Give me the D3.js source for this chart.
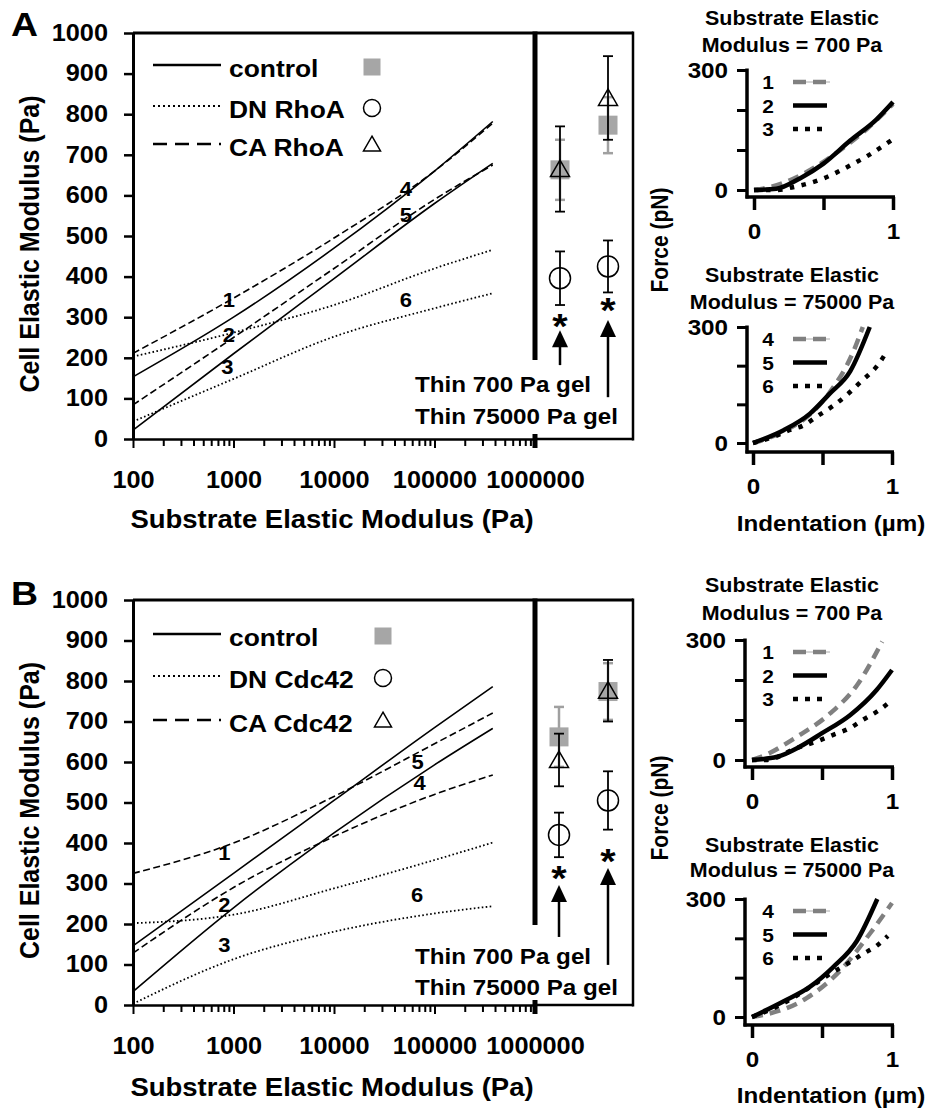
<!DOCTYPE html>
<html lang="en">
<head>
<meta charset="UTF-8">
<title>Cell elastic modulus vs substrate elastic modulus</title>
<script src="https://d3js.org/d3.v7.min.js"></script>
<style>
  body { margin: 0; background: #fff; }
  svg text { font-family: "Liberation Sans", Arial, Helvetica, sans-serif; font-weight: bold; fill: #000; }
</style>
</head>
<body>
<svg id="fig" width="931" height="1111"></svg>
<script>
// ---------------- data ----------------
const substrate = [100, 1000, 10000, 100000, 380000];   // Pa

// panel A (RhoA), two model curves per condition
const rhoaControl = [[153, 300, 470, 660, 782], [22, 210, 395, 580, 679]];
const rhoaDN      = [[203, 262, 330, 420, 466], [43, 148, 252, 322, 359]];
const rhoaCA      = [[211, 347, 495, 660, 778], [84, 250, 420, 590, 675]];

// panel B (Cdc42)
const cdcControl = [[146, 325, 505, 685, 786], [33, 240, 425, 593, 683]];
const cdcDN      = [[202, 223, 288, 358, 401], [3, 113, 181, 226, 244]];
const cdcCA      = [[325, 400, 515, 645, 721], [128, 290, 416, 520, 568]];

// measured points on thin gels
const gels = ["Thin 700 Pa gel", "Thin 75000 Pa gel"];
const rhoaCtlMean = [663, 773], rhoaCtlErr = [74, 69];
const rhoaCAMean  = [665, 840], rhoaCAErr  = [105, 103];
const rhoaDNMean  = [396, 425], rhoaDNErr  = [66, 64];
const cdcCtlMean  = [662, 774], cdcCtlErr  = [74, 70];
const cdcCAMean   = [605, 776], cdcCAErr   = [65, 76];
const cdcDNMean   = [420, 505], cdcDNErr   = [55, 72];

// curve numbers (substrate Pa, cell Pa)
const rhoaNumbers = [[900, 342, "1"], [900, 256, "2"], [870, 177, "3"], [52000, 616, "4"], [52000, 552, "5"], [52000, 342, "6"]];
const cdcNumbers  = [[810, 375, "1"], [810, 247, "2"], [810, 148, "3"], [71000, 548, "4"], [68000, 600, "5"], [67000, 272, "6"]];

// significance marks: star level, arrow tip, arrow tail
const rhoaStar = [298, 337], rhoaArrowTip = [268, 293], rhoaArrowTail = [182, 103];
const cdcStar  = [333, 375], cdcArrowTip  = [296, 338], cdcArrowTail  = [168, 99];

// force-indentation insets: [indentation um], [force pN]
const a700 = {
  c1: [[0, 0.1, 0.33, 0.54, 0.81, 1.0], [0, 6, 36, 80, 152, 215]],
  c2: [[0, 0.16, 0.33, 0.5, 0.69, 0.88, 1.0], [0, 3, 29, 66, 123, 176, 220]],
  c3: [[0, 0.16, 0.28, 0.5, 0.69, 0.82, 1.0], [0, 0, 7, 29, 61, 86, 127]]
};
const a75000 = {
  c1: [[0, 0.22, 0.41, 0.55, 0.72, 0.79], [0, 30, 74, 130, 235, 300]],
  c2: [[0, 0.22, 0.41, 0.55, 0.70, 0.84], [0, 33, 76, 127, 186, 300]],
  c3: [[0, 0.14, 0.26, 0.36, 0.47, 0.58, 0.68, 0.78, 0.89, 0.97], [0, 15, 33, 45, 71, 97, 126, 160, 198, 241]]
};
const b700 = {
  c1: [[0, 0.08, 0.32, 0.56, 0.75, 0.93], [0, 10, 58, 117, 187, 296]],
  c2: [[0, 0.18, 0.34, 0.5, 0.7, 0.89, 1.0], [0, 8, 33, 67, 112, 175, 225]],
  c3: [[0, 0.1, 0.32, 0.46, 0.58, 0.7, 0.79, 0.91, 1.0], [0, 0, 30, 46, 63, 80, 100, 125, 150]]
};
const b75000 = {
  c1: [[0, 0.05, 0.39, 0.63, 0.84, 1.0], [0, 3, 48, 118, 211, 290]],
  c2: [[0, 0.22, 0.41, 0.58, 0.75, 0.895], [0, 39, 76, 127, 194, 300]],
  c3: [[0, 0.2, 0.44, 0.56, 0.68, 0.79, 0.89, 0.97], [0, 30, 82, 110, 135, 160, 181, 206]]
};

// ---------------- drawing ----------------
const svg = d3.select("#fig");
svg.append("rect").attr("width", 931).attr("height", 1111).attr("fill", "#fff");

const SX = 1.1;  // the source figure is slightly wider than tall in its lettering
const GREY = "#a6a6a6";

function txt(g, x, y, s, size, anchor = "start", rot = false) {
  return g.append("text")
    .attr("transform", `translate(${x},${y}) scale(${SX},1)${rot ? " rotate(-90)" : ""}`)
    .attr("text-anchor", anchor)
    .style("font-size", size + "px")
    .text(s);
}

function hline(g, x1, x2, y, w, col = "#000") {
  g.append("line").attr("x1", x1).attr("x2", x2).attr("y1", y).attr("y2", y)
    .attr("stroke", col).attr("stroke-width", w);
}
function vline(g, x, y1, y2, w, col = "#000") {
  g.append("line").attr("x1", x).attr("x2", x).attr("y1", y1).attr("y2", y2)
    .attr("stroke", col).attr("stroke-width", w);
}

function marker(g, type, cx, cy, s) {
  if (type === "square") {
    g.append("rect").attr("x", cx - s / 2).attr("y", cy - s / 2)
      .attr("width", s).attr("height", s).attr("fill", GREY);
  } else if (type === "circle") {
    g.append("circle").attr("cx", cx).attr("cy", cy).attr("r", s / 2)
      .attr("fill", "none").attr("stroke", "#000").attr("stroke-width", 1.5);
  } else {
    const area = Math.sqrt(3) / 4 * s * s;
    g.append("path").attr("d", d3.symbol(d3.symbolTriangle, area)())
      .attr("transform", `translate(${cx},${cy})`)
      .attr("fill", "none").attr("stroke", "#000").attr("stroke-width", 1.5);
  }
}

const lineStyle = {
  control: { dash: null, w: 1.6 },
  dn: { dash: "1.6,2.4", w: 1.8 },
  ca: { dash: "7,3.5", w: 1.6 }
};
const legendStyle = {
  control: { dash: null, w: 2.6 },
  dn: { dash: "2,3", w: 2.2 },
  ca: { dash: "14,8", w: 2.6 }
};

function drawMain(p) {
  const g = svg.append("g");
  const x = d3.scaleLog().domain([100, 1e6]).range([133, 535]);
  const y = d3.scaleLinear().domain([0, 1000]).range([p.y0, p.y1]);
  const gx = d3.scalePoint().domain(gels).range(p.colX);
  const xRight = 633;

  // frame
  hline(g, 133, xRight, y(1000), 3);
  vline(g, xRight, y(1000) - 1.5, y(0) + 1.5, 2.5);
  vline(g, x(1e6), y(1000) - 1.5, p.divEnd, 5);
  hline(g, x(1e6), xRight, y(0), 2.5);
  vline(g, x(1e6), y(0) - 5, y(0) + 9, 5);

  // y axis
  const ya = g.append("g").attr("transform", "translate(133,0)")
    .call(d3.axisLeft(y).tickValues(d3.range(0, 1001, 100)).tickSize(9).tickSizeOuter(0)
      .tickPadding(16).tickFormat(d3.format("d")));
  ya.select(".domain").attr("stroke-width", 3);
  ya.selectAll(".tick line").attr("stroke-width", 2.5);
  ya.selectAll(".tick text").style("font-size", "23px")
    .attr("x", -25 / SX).attr("transform", `scale(${SX},1)`);

  // x axis (log, with minor ticks)
  const xt = [];
  for (let e = 2; e <= 6; e++) {
    for (let m = 1; m <= 9; m++) {
      if (e === 6 && m > 1) break;
      xt.push(m * Math.pow(10, e));
    }
  }
  const isDecade = d => Math.abs(Math.log10(d) - Math.round(Math.log10(d))) < 1e-9;
  const xa = g.append("g").attr("transform", `translate(0,${y(0)})`)
    .call(d3.axisBottom(x).tickValues(xt).tickSize(9).tickSizeOuter(0).tickPadding(24)
      .tickFormat(d => isDecade(d) ? d3.format("d")(d) : ""));
  xa.select(".domain").attr("stroke-width", 2.5);
  xa.selectAll(".tick line").attr("stroke-width", 2).attr("y2", d => isDecade(d) ? 9 : 7);
  xa.selectAll(".tick text").style("font-size", "23px").attr("transform", `scale(${SX},1)`);

  // model curves
  const line = d3.line().x(d => x(d[0])).y(d => y(d[1])).curve(d3.curveMonotoneX);
  const series = [];
  ["control", "dn", "ca"].forEach(k => p[k].forEach(vals => series.push({ k, pts: d3.zip(substrate, vals) })));
  g.selectAll("path.model").data(series).join("path")
    .attr("class", "model")
    .attr("d", d => line(d.pts))
    .attr("fill", "none").attr("stroke", "#000")
    .attr("stroke-width", d => lineStyle[d.k].w)
    .attr("stroke-dasharray", d => lineStyle[d.k].dash);

  // curve numbers
  p.numbers.forEach(n => txt(g, x(n[0]), y(n[1]) + 7, n[2], 20, "middle"));

  // legend
  const keys = ["control", "dn", "ca"], marks = ["square", "circle", "triangle"];
  keys.forEach((k, i) => {
    const ly = p.legendY[i];
    g.append("line").attr("x1", 153).attr("x2", 221).attr("y1", ly).attr("y2", ly)
      .attr("stroke", "#000").attr("stroke-width", legendStyle[k].w)
      .attr("stroke-dasharray", legendStyle[k].dash);
    txt(g, 229, ly + 12, p.names[i], 24);
    marker(g, marks[i], p.markerX, ly + 2, 17);
  });

  // data points with error bars
  function errbar(cx, m, e, col, w) {
    vline(g, cx, y(m + e), y(m - e), w, col);
    hline(g, cx - 5, cx + 5, y(m + e), w, col);
    hline(g, cx - 5, cx + 5, y(m - e), w, col);
  }
  gels.forEach((gel, i) => {
    const cx = gx(gel);
    errbar(cx, p.ctlMean[i], p.ctlErr[i], "#a0a0a0", 2.5);
    marker(g, "square", cx, y(p.ctlMean[i]), 19);
    errbar(cx, p.caMean[i], p.caErr[i], "#000", 1.8);
    marker(g, "triangle", cx, y(p.caMean[i]) + 2, 19);
    errbar(cx, p.dnMean[i], p.dnErr[i], "#000", 1.8);
    marker(g, "circle", cx, y(p.dnMean[i]), 21);
    // significance star and arrow
    txt(g, cx, y(p.star[i]) + 20, "*", 36, "middle");
    const tip = y(p.arrowTip[i]);
    vline(g, cx, tip + 10, y(p.arrowTail[i]), 2.5);
    g.append("path").attr("d", `M${cx},${tip}L${cx - 8},${tip + 17}L${cx + 8},${tip + 17}Z`).attr("fill", "#000");
  });

  txt(g, 415, p.gelY[0], gels[0], 22);
  txt(g, 415, p.gelY[1], gels[1], 22);

  // titles
  txt(g, 332, p.xTitleY, "Substrate Elastic Modulus (Pa)", 25, "middle");
  txt(g, 39, (p.y0 + p.y1) / 2 + 8, "Cell Elastic Modulus (Pa)", 25, "middle", true);
  txt(g, 11, p.letterY, p.letter, 34);
}

function drawInset(p) {
  const g = svg.append("g");
  const x = d3.scaleLinear().domain([0, 1]).range([p.x0, p.x1]);
  const y = d3.scaleLinear().domain([0, 300]).range([p.yb, p.yt]);

  txt(g, 792, p.titleY[0], "Substrate Elastic", 19.5, "middle");
  txt(g, 792, p.titleY[1], p.title2, 19.5, "middle");

  const ya = g.append("g").attr("transform", `translate(${p.ax},0)`)
    .call(d3.axisLeft(y).tickValues([0, 100, 200, 300]).tickSize(10).tickSizeOuter(0).tickPadding(9)
      .tickFormat(d => (d === 0 || d === 300) ? d : ""));
  ya.select(".domain").remove();
  ya.selectAll(".tick line").attr("stroke-width", 3);
  ya.selectAll(".tick text").style("font-size", "22px").attr("x", -19 / SX).attr("transform", `scale(${SX},1)`);
  vline(g, p.ax, y(300) - 1.5, p.axY + 1.5, 3.5);

  const xa = g.append("g").attr("transform", `translate(0,${p.axY})`)
    .call(d3.axisBottom(x).tickValues([0, 0.5, 1]).tickSize(13).tickSizeOuter(0).tickPadding(13)
      .tickFormat(d => (d === 0.5 ? "" : d)));
  xa.select(".domain").remove();
  xa.selectAll(".tick line").attr("stroke-width", 3.5);
  xa.selectAll(".tick text").style("font-size", "22px").attr("transform", `scale(${SX},1)`);
  hline(g, p.ax - 1.5, x(1) + 2, p.axY, 3.5);

  const line = d3.line().x(d => x(d[0])).y(d => y(d[1])).curve(d3.curveMonotoneX);
  const st = [
    { stroke: "#808080", w: 4.5, dash: "11,7" },
    { stroke: "#000", w: 4.5, dash: null },
    { stroke: "#000", w: 4.5, dash: "4.5,7.5" }
  ];
  ["c1", "c2", "c3"].forEach((c, i) => {
    g.append("path").attr("d", line(d3.zip(p.data[c][0], p.data[c][1])))
      .attr("fill", "none").attr("stroke", st[i].stroke).attr("stroke-width", st[i].w)
      .attr("stroke-dasharray", st[i].dash);
    const ly = y(300) + 12 + i * 23.5;
    txt(g, 768, ly + 7, p.labels[i], 19, "middle");
    if (i === 0) hline(g, 793, 830, ly, 1, "#aaa");
    g.append("line").attr("x1", 793).attr("x2", 827).attr("y1", ly).attr("y2", ly)
      .attr("stroke", st[i].stroke).attr("stroke-width", 4.5)
      .attr("stroke-dasharray", i === 0 ? "13,7" : (i === 2 ? "5,7" : null));
  });
  if (p.xTitleY) txt(g, 831, p.xTitleY, "Indentation (\u00b5m)", 22, "middle");
}

drawMain({
  letter: "A", letterY: 36, y0: 439, y1: 33, divEnd: 360, colX: [560, 608],
  control: rhoaControl, dn: rhoaDN, ca: rhoaCA,
  names: ["control", "DN RhoA", "CA RhoA"], legendY: [65, 106, 144], markerX: 372,
  ctlMean: rhoaCtlMean, ctlErr: rhoaCtlErr, caMean: rhoaCAMean, caErr: rhoaCAErr,
  dnMean: rhoaDNMean, dnErr: rhoaDNErr, numbers: rhoaNumbers,
  star: rhoaStar, arrowTip: rhoaArrowTip, arrowTail: rhoaArrowTail,
  gelY: [392, 424], xTitleY: 528
});
drawMain({
  letter: "B", letterY: 605, y0: 1005, y1: 600, divEnd: 925, colX: [559, 608],
  control: cdcControl, dn: cdcDN, ca: cdcCA,
  names: ["control", "DN Cdc42", "CA Cdc42"], legendY: [634, 676, 720], markerX: 383,
  ctlMean: cdcCtlMean, ctlErr: cdcCtlErr, caMean: cdcCAMean, caErr: cdcCAErr,
  dnMean: cdcDNMean, dnErr: cdcDNErr, numbers: cdcNumbers,
  star: cdcStar, arrowTip: cdcArrowTip, arrowTail: cdcArrowTail,
  gelY: [964, 995], xTitleY: 1096
});

drawInset({ x0: 754, x1: 893, yb: 190, yt: 70, ax: 747, axY: 197, titleY: [25, 52],
  title2: "Modulus = 700 Pa", data: a700, labels: ["1", "2", "3"] });
drawInset({ x0: 753, x1: 892, yb: 443, yt: 327, ax: 747, axY: 452, titleY: [282, 309],
  title2: "Modulus = 75000 Pa", data: a75000, labels: ["4", "5", "6"], xTitleY: 531 });
drawInset({ x0: 752, x1: 892, yb: 760, yt: 640, ax: 745, axY: 767, titleY: [592, 620],
  title2: "Modulus = 700 Pa", data: b700, labels: ["1", "2", "3"] });
drawInset({ x0: 752, x1: 892, yb: 1017, yt: 899, ax: 745, axY: 1025, titleY: [852, 877],
  title2: "Modulus = 75000 Pa", data: b75000, labels: ["4", "5", "6"], xTitleY: 1103 });

txt(svg, 668, 240, "Force (pN)", 21, "middle", true);
txt(svg, 668, 808, "Force (pN)", 21, "middle", true);
</script>
</body>
</html>
